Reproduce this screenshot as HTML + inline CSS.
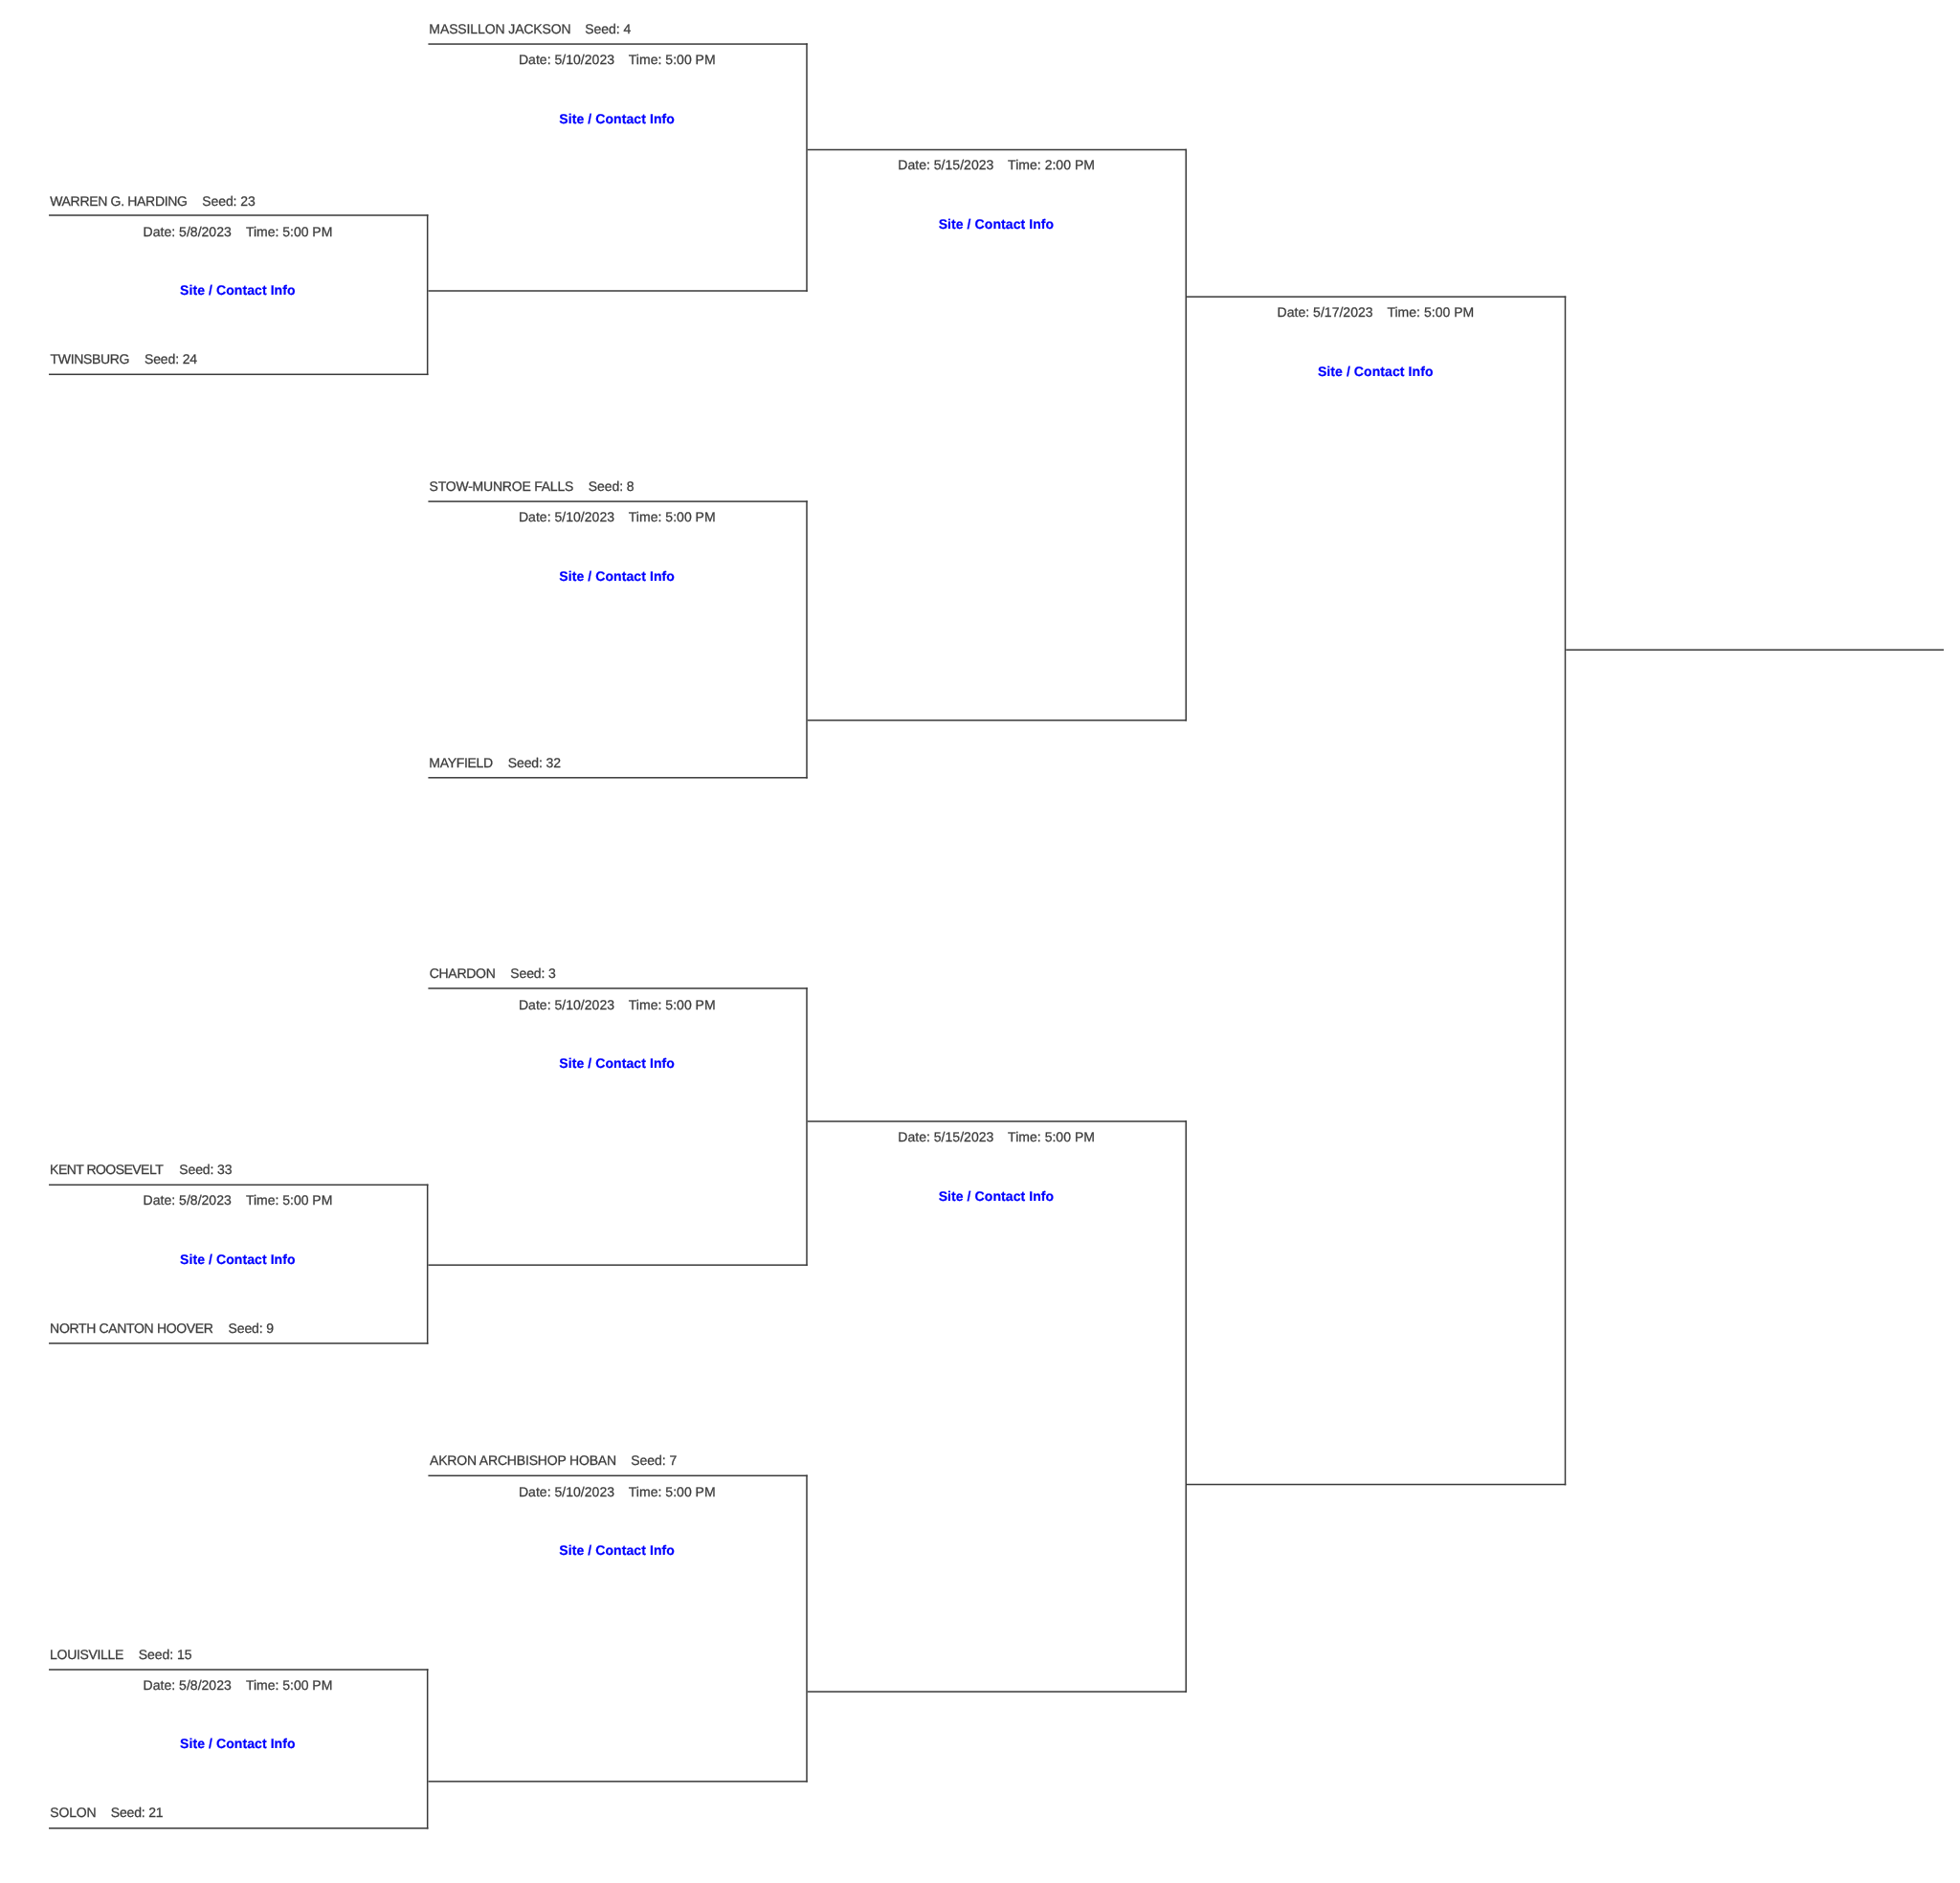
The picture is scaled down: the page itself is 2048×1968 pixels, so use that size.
<!DOCTYPE html>
<html lang="en">
<head>
<meta charset="utf-8">
<title>Tournament Bracket</title>
<style>
html,body{margin:0;padding:0;background:#fff}
body{width:2048px;height:1968px;position:relative;overflow:hidden;font-family:"Liberation Sans",sans-serif;font-size:14px;line-height:20px;color:#3a3a3a}
#bracket{position:absolute;left:0;top:0;width:2048px;height:1968px;will-change:transform;text-rendering:geometricPrecision}
#bracket svg{position:absolute;left:0;top:0}
#bracket .t,#bracket .b{position:absolute;white-space:pre;font-size:14px;line-height:20px}
#bracket .t{color:#3a3a3a;-webkit-text-stroke:0.25px #3a3a3a}
#bracket .b{color:#0000ff;font-weight:bold;text-decoration:none;cursor:pointer;-webkit-text-stroke:0.2px #0000ff}
</style>
</head>
<body>
<div id="bracket">
<svg width="2048" height="1968" viewBox="0 0 2048 1968">
<g fill="#3a3a3a">
<rect x="51.05" y="224.25" width="396.38" height="1.50"/>
<rect x="51.05" y="390.55" width="396.38" height="1.50"/>
<rect x="445.93" y="224.25" width="1.50" height="167.80"/>
<rect x="51.05" y="1237.60" width="396.38" height="1.50"/>
<rect x="51.05" y="1403.25" width="396.38" height="1.50"/>
<rect x="445.93" y="1237.60" width="1.50" height="167.15"/>
<rect x="51.05" y="1744.25" width="396.38" height="1.50"/>
<rect x="51.05" y="1910.00" width="396.38" height="1.50"/>
<rect x="445.93" y="1744.25" width="1.50" height="167.25"/>
<rect x="447.43" y="45.30" width="396.32" height="1.50"/>
<rect x="447.43" y="303.25" width="396.32" height="1.50"/>
<rect x="842.25" y="45.30" width="1.50" height="259.45"/>
<rect x="447.43" y="523.35" width="396.32" height="1.50"/>
<rect x="447.43" y="812.05" width="396.32" height="1.50"/>
<rect x="842.25" y="523.35" width="1.50" height="290.20"/>
<rect x="447.43" y="1032.25" width="396.32" height="1.50"/>
<rect x="447.43" y="1321.40" width="396.32" height="1.50"/>
<rect x="842.25" y="1032.25" width="1.50" height="290.65"/>
<rect x="447.43" y="1541.55" width="396.32" height="1.50"/>
<rect x="447.43" y="1861.10" width="396.32" height="1.50"/>
<rect x="842.25" y="1541.55" width="1.50" height="321.05"/>
<rect x="843.75" y="155.75" width="396.25" height="1.50"/>
<rect x="843.75" y="752.05" width="396.25" height="1.50"/>
<rect x="1238.50" y="155.75" width="1.50" height="597.80"/>
<rect x="843.75" y="1171.25" width="396.25" height="1.50"/>
<rect x="843.75" y="1767.30" width="396.25" height="1.50"/>
<rect x="1238.50" y="1171.25" width="1.50" height="597.55"/>
<rect x="1240.00" y="309.45" width="396.25" height="1.50"/>
<rect x="1240.00" y="1550.75" width="396.25" height="1.50"/>
<rect x="1634.75" y="309.45" width="1.50" height="1242.80"/>
<rect x="1636.25" y="678.45" width="394.75" height="1.50"/>
</g></svg>
<span class="t" style="left:52.23px;top:200px;letter-spacing:-0.318px">WARREN G. HARDING</span>
<span class="t" style="left:211.17px;top:200px;letter-spacing:-0.061px">Seed: 23</span>
<span class="t" style="left:52.55px;top:365px;letter-spacing:-0.342px">TWINSBURG</span>
<span class="t" style="left:151.02px;top:365px;letter-spacing:-0.133px">Seed: 24</span>
<span class="t" style="left:52.12px;top:1212px;letter-spacing:-0.533px">KENT ROOSEVELT</span>
<span class="t" style="left:187.27px;top:1212px;letter-spacing:-0.111px">Seed: 33</span>
<span class="t" style="left:52.12px;top:1378px;letter-spacing:-0.333px">NORTH CANTON HOOVER</span>
<span class="t" style="left:238.52px;top:1378px;letter-spacing:-0.113px">Seed: 9</span>
<span class="t" style="left:52.12px;top:1719px;letter-spacing:-0.33px">LOUISVILLE</span>
<span class="t" style="left:144.77px;top:1719px;letter-spacing:-0.043px">Seed: 15</span>
<span class="t" style="left:52.27px;top:1884px;letter-spacing:-0.183px">SOLON</span>
<span class="t" style="left:115.77px;top:1884px;letter-spacing:-0.183px">Seed: 21</span>
<span class="t" style="left:448.37px;top:20px;letter-spacing:-0.114px">MASSILLON JACKSON</span>
<span class="t" style="left:611.27px;top:20px;letter-spacing:-0.051px">Seed: 4</span>
<span class="t" style="left:448.52px;top:498px;letter-spacing:-0.217px">STOW-MUNROE FALLS</span>
<span class="t" style="left:614.77px;top:498px;letter-spacing:-0.076px">Seed: 8</span>
<span class="t" style="left:448.37px;top:787px;letter-spacing:-0.316px">MAYFIELD</span>
<span class="t" style="left:530.77px;top:787px;letter-spacing:-0.109px">Seed: 32</span>
<span class="t" style="left:448.68px;top:1007px;letter-spacing:-0.285px">CHARDON</span>
<span class="t" style="left:533.27px;top:1007px;letter-spacing:-0.118px">Seed: 3</span>
<span class="t" style="left:449.05px;top:1516px;letter-spacing:-0.182px">AKRON ARCHBISHOP HOBAN</span>
<span class="t" style="left:659.27px;top:1516px;letter-spacing:-0.058px">Seed: 7</span>
<span class="t" style="left:149.62px;top:232px;letter-spacing:0.025px">Date: 5/8/2023</span>
<span class="t" style="left:256.95px;top:232px;letter-spacing:-0.012px">Time: 5:00 PM</span>
<a class="b" style="left:188.03px;top:293px;letter-spacing:0.085px">Site / Contact Info</a>
<span class="t" style="left:149.62px;top:1244px;letter-spacing:0.025px">Date: 5/8/2023</span>
<span class="t" style="left:256.95px;top:1244px;letter-spacing:-0.012px">Time: 5:00 PM</span>
<a class="b" style="left:188.03px;top:1306px;letter-spacing:0.085px">Site / Contact Info</a>
<span class="t" style="left:149.62px;top:1751px;letter-spacing:0.025px">Date: 5/8/2023</span>
<span class="t" style="left:256.95px;top:1751px;letter-spacing:-0.012px">Time: 5:00 PM</span>
<a class="b" style="left:188.03px;top:1812px;letter-spacing:0.085px">Site / Contact Info</a>
<span class="t" style="left:541.97px;top:52px;letter-spacing:0.029px">Date: 5/10/2023</span>
<span class="t" style="left:656.80px;top:52px;letter-spacing:0.029px">Time: 5:00 PM</span>
<a class="b" style="left:584.33px;top:114px;letter-spacing:0.085px">Site / Contact Info</a>
<span class="t" style="left:541.97px;top:530px;letter-spacing:0.029px">Date: 5/10/2023</span>
<span class="t" style="left:656.80px;top:530px;letter-spacing:0.029px">Time: 5:00 PM</span>
<a class="b" style="left:584.33px;top:592px;letter-spacing:0.085px">Site / Contact Info</a>
<span class="t" style="left:541.97px;top:1040px;letter-spacing:0.029px">Date: 5/10/2023</span>
<span class="t" style="left:656.80px;top:1040px;letter-spacing:0.029px">Time: 5:00 PM</span>
<a class="b" style="left:584.33px;top:1101px;letter-spacing:0.085px">Site / Contact Info</a>
<span class="t" style="left:541.97px;top:1549px;letter-spacing:0.029px">Date: 5/10/2023</span>
<span class="t" style="left:656.80px;top:1549px;letter-spacing:0.029px">Time: 5:00 PM</span>
<a class="b" style="left:584.33px;top:1610px;letter-spacing:0.085px">Site / Contact Info</a>
<span class="t" style="left:938.27px;top:162px;letter-spacing:0.029px">Date: 5/15/2023</span>
<span class="t" style="left:1053.10px;top:162px;letter-spacing:0.029px">Time: 2:00 PM</span>
<a class="b" style="left:980.63px;top:224px;letter-spacing:0.085px">Site / Contact Info</a>
<span class="t" style="left:938.27px;top:1178px;letter-spacing:0.029px">Date: 5/15/2023</span>
<span class="t" style="left:1053.10px;top:1178px;letter-spacing:0.029px">Time: 5:00 PM</span>
<a class="b" style="left:980.63px;top:1240px;letter-spacing:0.085px">Site / Contact Info</a>
<span class="t" style="left:1334.57px;top:316px;letter-spacing:0.029px">Date: 5/17/2023</span>
<span class="t" style="left:1449.40px;top:316px;letter-spacing:0.029px">Time: 5:00 PM</span>
<a class="b" style="left:1376.93px;top:378px;letter-spacing:0.085px">Site / Contact Info</a>
</div>
</body>
</html>
